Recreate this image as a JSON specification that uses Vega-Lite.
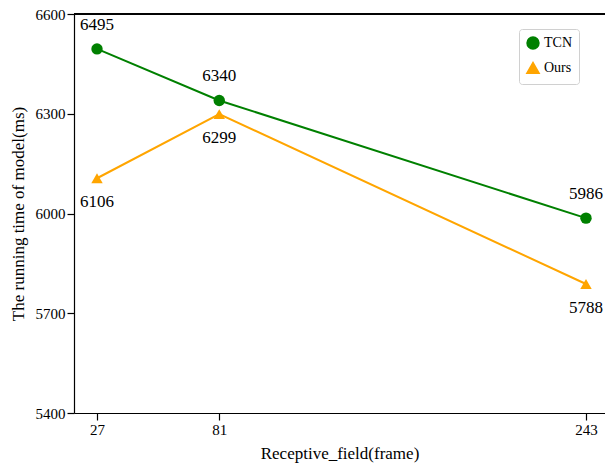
{
  "$schema": "https://vega.github.io/schema/vega-lite/v6.json",
  "width": 531,
  "height": 399,
  "autosize": {"type": "none"},
  "padding": {"left": 74, "top": 14, "right": 0, "bottom": 51},
  "background": "white",
  "config": {
    "view": {"stroke": null},
    "font": "Liberation Serif",
    "text": {"font": "Liberation Serif"},
    "axis": {
      "grid": false,
      "domainColor": "black",
      "domainWidth": 1.2,
      "tickColor": "black",
      "tickWidth": 1.2,
      "tickSize": 7,
      "labelColor": "black",
      "labelFont": "Liberation Serif",
      "labelFontSize": 15,
      "titleFont": "Liberation Serif",
      "titleFontSize": 17,
      "titleFontWeight": "normal",
      "titleColor": "black"
    },
    "legend": {
      "labelFont": "Liberation Serif",
      "labelFontSize": 14,
      "labelColor": "black",
      "strokeColor": "#d0d0d0",
      "fillColor": "white",
      "cornerRadius": 3,
      "padding": 7,
      "rowPadding": 6
    }
  },
  "data": {
    "values": [
      {"field": 27, "time": 6495, "model": "TCN"},
      {"field": 81, "time": 6340, "model": "TCN"},
      {"field": 243, "time": 5986, "model": "TCN"},
      {"field": 27, "time": 6106, "model": "Ours"},
      {"field": 81, "time": 6299, "model": "Ours"},
      {"field": 243, "time": 5788, "model": "Ours"}
    ]
  },
  "layer": [
    {
      "mark": {"type": "rule", "color": "black", "strokeWidth": 1.2},
      "encoding": {"y": {"datum": 6600, "type": "quantitative"}}
    },
    {
      "mark": {"type": "line", "strokeWidth": 2},
      "encoding": {
        "x": {
          "field": "field", "type": "quantitative",
          "scale": {"domain": [16.84, 251.4], "nice": false, "zero": false},
          "axis": {"values": [27, 81, 243], "format": "d", "title": "Receptive_field(frame)", "titlePadding": 8}
        },
        "y": {
          "field": "time", "type": "quantitative",
          "scale": {"domain": [5400, 6600], "nice": false, "zero": false},
          "axis": {"values": [5400, 5700, 6000, 6300, 6600], "format": "d", "title": "The running time of model(ms)", "titlePadding": 8}
        },
        "color": {
          "field": "model", "type": "nominal",
          "scale": {"domain": ["TCN", "Ours"], "range": ["green", "orange"]},
          "legend": {"title": null, "orient": "none", "legendX": 445, "legendY": 15, "symbolSize": 130, "symbolStrokeWidth": 2}
        }
      }
    },
    {
      "mark": {"type": "point", "filled": true, "size": 130, "opacity": 1},
      "encoding": {
        "x": {"field": "field", "type": "quantitative"},
        "y": {"field": "time", "type": "quantitative"},
        "color": {"field": "model", "type": "nominal"},
        "shape": {
          "field": "model", "type": "nominal",
          "scale": {"domain": ["TCN", "Ours"], "range": ["circle", "triangle-up"]},
          "legend": {"title": null}
        }
      }
    },
    {
      "transform": [{"filter": "datum.model === 'TCN'"}],
      "mark": {"type": "text", "dy": -24, "fontSize": 17, "color": "black", "font": "Liberation Serif"},
      "encoding": {
        "x": {"field": "field", "type": "quantitative"},
        "y": {"field": "time", "type": "quantitative"},
        "text": {"field": "time", "type": "quantitative", "format": "d"}
      }
    },
    {
      "transform": [{"filter": "datum.model === 'Ours'"}],
      "mark": {"type": "text", "dy": 24, "fontSize": 17, "color": "black", "font": "Liberation Serif"},
      "encoding": {
        "x": {"field": "field", "type": "quantitative"},
        "y": {"field": "time", "type": "quantitative"},
        "text": {"field": "time", "type": "quantitative", "format": "d"}
      }
    }
  ]
}
